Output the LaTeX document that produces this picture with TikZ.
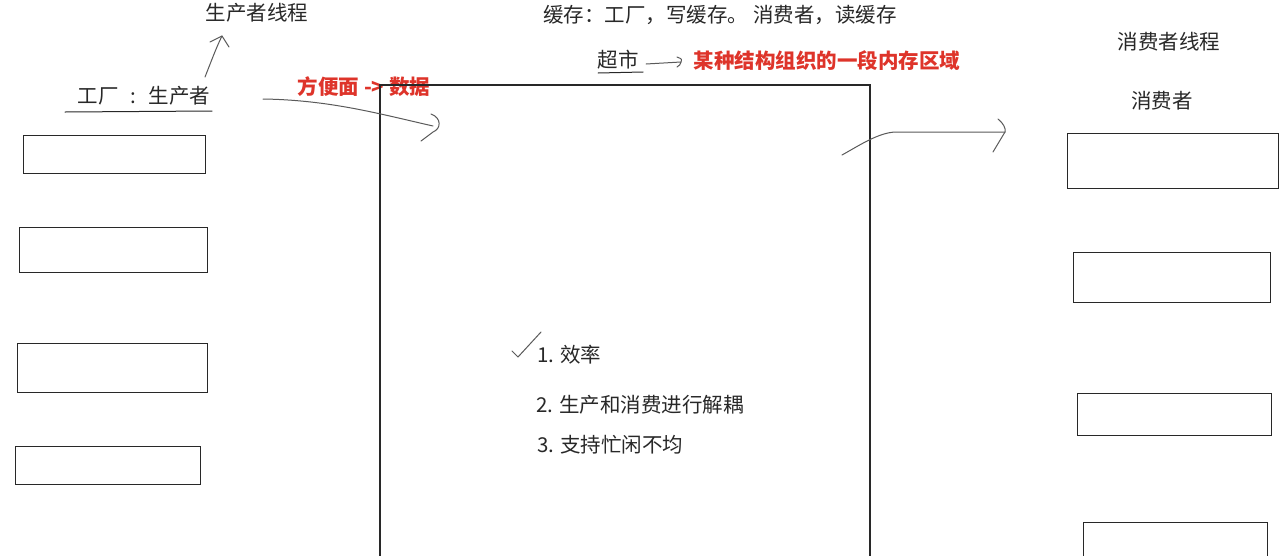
\documentclass[tikz,border=0pt]{standalone}
\usepackage{fontspec}
\setmainfont{Noto Sans CJK SC}
\definecolor{hred}{RGB}{222,52,42}
\definecolor{ink}{RGB}{40,40,40}
\definecolor{pen}{RGB}{90,90,90}
\tikzset{
  box/.style={draw=ink, line width=1.3pt, inner sep=0pt, anchor=north west},
  lbl/.style={font=\fontsize{20.5}{24}\selectfont, text=ink, inner sep=0pt},
  redlbl/.style={font=\fontsize{20.5}{24}\selectfont\bfseries, text=hred, inner sep=0pt},
  hand/.style={draw=pen, line width=1pt, line cap=round, line join=round},
}
\begin{document}
\begin{tikzpicture}[x=1pt,y=-1pt]
\useasboundingbox (0,0) rectangle (1280,555);
\fill[white] (0,0) rectangle (1280,555);
\clip (0,0) rectangle (1280,555);

% texts
\node[lbl] (prodthread) at (257,13) {生产者线程};
\node[lbl] (cache) at (720,15) {缓存：工厂，写缓存。 消费者，读缓存};
\node[lbl] (factory) at (144,96) {工厂\hspace{12pt}:\hspace{12pt}生产者};
\node[redlbl] (noodle) at (364,87) {方便面 -> 数据};
\node[lbl] (market) at (618,60) {超市};
\node[redlbl] (memory) at (827,61) {某种结构组织的一段内存区域};
\node[lbl] (consthread) at (1169,42) {消费者线程};
\node[lbl] (consumer) at (1162,101) {消费者};
\node[lbl, anchor=west] (item1) at (537,355) {1. 效率};
\node[lbl, anchor=west] (item2) at (536,405) {2. 生产和消费进行解耦};
\node[lbl, anchor=west] (item3) at (537,445) {3. 支持忙闲不均};

% underlines
\coordinate (fu0) at (65,112); \coordinate (fu1) at (212,111);
\draw[hand, draw=ink] (fu0) -- (fu1);
\coordinate (mu0) at (598,73); \coordinate (mu1) at (643,72);
\draw[hand, draw=ink] (mu0) -- (mu1);

% big buffer box (open at the bottom)
\coordinate (bb0) at (380,560); \coordinate (bb1) at (380,85);
\coordinate (bb2) at (870,85); \coordinate (bb3) at (870,560);
\draw[draw=ink, line width=1.3pt] (bb0) -- (bb1) -- (bb2) -- (bb3);

% producer boxes
\node[box, minimum width=182pt, minimum height=38pt] (p1) at (23,135) {};
\node[box, minimum width=188pt, minimum height=45pt] (p2) at (19,227) {};
\node[box, minimum width=190pt, minimum height=49pt] (p3) at (17,343) {};
\node[box, minimum width=185pt, minimum height=38pt] (p4) at (15,446) {};

% consumer boxes
\node[box, minimum width=211pt, minimum height=55pt] (c1) at (1067,133) {};
\node[box, minimum width=197pt, minimum height=50pt] (c2) at (1073,252) {};
\node[box, minimum width=194pt, minimum height=42pt] (c3) at (1077,393) {};
\node[box, minimum width=184pt, minimum height=60pt] (c4) at (1083,522) {};

% hand-drawn arrow to producer thread
\coordinate (pa0) at (205,77); \coordinate (pa1) at (222,36);
\draw[hand] (pa0) .. controls (211,62) and (216,48) .. (pa1);
\draw[hand] (210,42) -- (pa1) -- (229,47);

% arrow into the buffer
\coordinate (na0) at (263,99); \coordinate (na1) at (433,126);
\draw[hand] (na0) .. controls (330,100) and (380,114) .. (na1);
\draw[hand] (431,114) .. controls (442,118) and (441,129) .. (433,132) -- (421,141);

% arrow out of the buffer
\coordinate (oa0) at (842,155); \coordinate (oa1) at (895,132); \coordinate (oa2) at (1005,132);
\draw[hand] (oa0) .. controls (860,145) and (878,133) .. (oa1) -- (oa2);
\draw[hand] (998,119) .. controls (1003,123) and (1006,128) .. (oa2) -- (993,152);

% small arrow from market
\coordinate (ma0) at (646,64); \coordinate (ma1) at (681,62);
\draw[hand] (ma0) -- (ma1);
\draw[hand] (677,57) .. controls (682,59) .. (ma1) .. controls (680,65) .. (677,67);

% check mark
\coordinate (ck0) at (512,351); \coordinate (ck1) at (518,357); \coordinate (ck2) at (541,332);
\draw[hand] (ck0) -- (ck1) -- (ck2);
\end{tikzpicture}
\end{document}
